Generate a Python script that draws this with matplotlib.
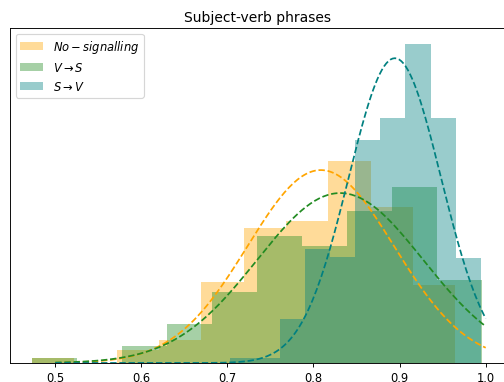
import numpy as np
import matplotlib
matplotlib.use("Agg")
import matplotlib.pyplot as plt

# Histogram bin edges (lowest edge, bin width) and density heights per group
labels = ["$No-signalling$", "$V\\rightarrow S$", "$S\\rightarrow V$"]
colors = ["orange", "forestgreen", "teal"]

no_signal_start, no_signal_width = 0.4730, 0.04916
no_signal_density = [0.122, 0.0, 0.316, 0.567, 1.963, 3.285, 3.462, 4.922, 3.788, 1.898]

v_to_s_start, v_to_s_width = 0.4727, 0.05228
v_to_s_density = [0.129, 0.0, 0.414, 0.949, 1.720, 3.083, 2.854, 3.706, 4.275, 2.027]

s_to_v_start, s_to_v_width = 0.7030, 0.02912
s_to_v_density = [0.114, 0.114, 1.071, 2.774, 2.572, 5.433, 5.961, 7.762, 5.961, 2.562]

# Fitted normal parameters (mean, std) for each group
fit_mean = [0.8085, 0.8310, 0.8945]
fit_std = [0.0850, 0.0965, 0.0538]

groups = [
    (no_signal_start, no_signal_width, no_signal_density),
    (v_to_s_start, v_to_s_width, v_to_s_density),
    (s_to_v_start, s_to_v_width, s_to_v_density),
]

W, H, DPI = 504, 383, 83
fig = plt.figure(figsize=(W / DPI, H / DPI), dpi=DPI)
ax = fig.add_axes([10 / W, 19 / H, 496 / W, 335 / H])

for (start, width, dens), col, lab in zip(groups, colors, labels):
    dens = np.asarray(dens)
    edges = start + width * np.arange(len(dens) + 1)
    ax.hist(edges[:-1], bins=edges, weights=dens, color=col, alpha=0.4, label=lab)

xs = np.linspace(0.5, 1.0, 200)
for mu, sd, col in zip(fit_mean, fit_std, colors):
    pdf = np.exp(-0.5 * ((xs - mu) / sd) ** 2) / (sd * np.sqrt(2 * np.pi))
    ax.plot(xs, pdf, linestyle="--", color=col, linewidth=1.5)

ax.set_xlim(0.4475, 1.0236)
ax.set_yticks([])
ax.set_title("Subject-verb phrases")
ax.legend(loc="upper left")

fig.savefig("out.png", dpi=DPI)
